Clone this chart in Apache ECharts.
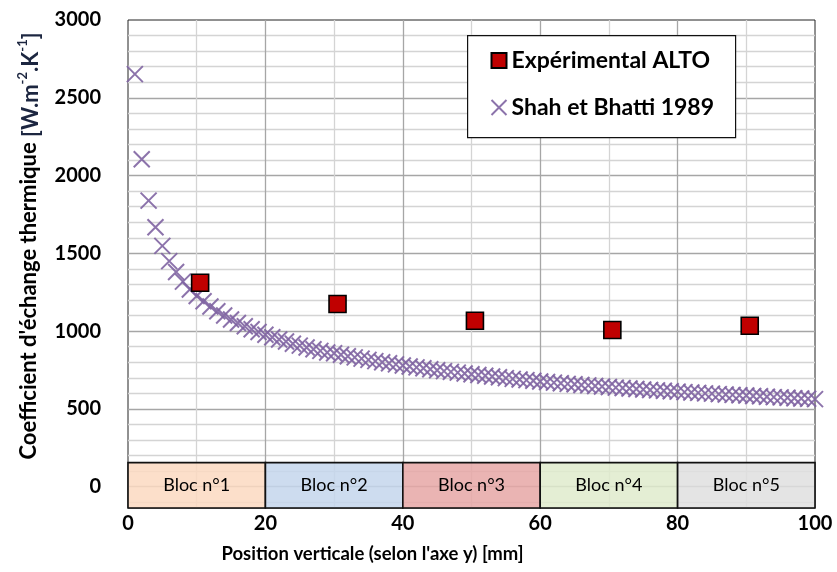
<!DOCTYPE html>
<html>
<head>
<meta charset="utf-8">
<script src="https://cdn.jsdelivr.net/npm/echarts@6/dist/echarts.min.js"></script>
<style>
html,body{margin:0;padding:0;background:#fff;}
#chart{width:837px;height:572px;}
</style>
</head>
<body>
<div id="chart"></div>
<script>
// ---- Data ----
const expX = [10.5, 30.5, 50.5, 70.5, 90.5];
const expY = [1311, 1174, 1067, 1007, 1035];

const shahX = [1,2,3,4,5,6,7,8,9,10,11,12,13,14,15,16,17,18,19,20,
  21,22,23,24,25,26,27,28,29,30,31,32,33,34,35,36,37,38,39,40,
  41,42,43,44,45,46,47,48,49,50,51,52,53,54,55,56,57,58,59,60,
  61,62,63,64,65,66,67,68,69,70,71,72,73,74,75,76,77,78,79,80,
  81,82,83,84,85,86,87,88,89,90,91,92,93,94,95,96,97,98,99,100];
const shahY = [2652,2105,1839,1668,1548,1450,1380,1318,1268,1226,
  1192,1158,1128,1100,1075,1052,1031,1012,994,977,
  961,946,933,919,907,895,884,873,863,858,
  848,839,831,823,815,807,800,793,786,779,
  773,767,761,755,749,743,738,733,728,723,
  718,713,708,703,698,693,689,685,681,676,
  673,669,665,661,658,654,651,647,644,641,
  637,634,631,628,625,622,619,617,614,611,
  608,605,603,600,598,595,593,590,588,586,
  583,581,578,576,574,572,569,567,565,563];

const blockNames = ['Bloc n°1', 'Bloc n°2', 'Bloc n°3', 'Bloc n°4', 'Bloc n°5'];
const blockStart = [0, 20, 40, 60, 80];
const blockEnd = [20, 40, 60, 80, 100];
const blockColors = ['rgba(251,218,193,0.86)', 'rgba(197,214,236,0.86)', 'rgba(230,168,166,0.86)', 'rgba(224,235,205,0.86)', 'rgba(224,224,224,0.86)'];
const blockBottom = -137;
const blockTop = 155;

const yLabels = [0, 500, 1000, 1500, 2000, 2500, 3000];
const hGrid = [-100,0,100,200,300,400,500,600,700,800,900,1000,1100,1200,1300,1400,1500,1600,1700,1800,1900,2000,2100,2200,2300,2400,2500,2600,2700,2800,2900];
const vGrid = [10,20,30,40,50,60,70,80,90];

const FONT = 'Lato, "Open Sans", sans-serif';
const gridLight = '#d4d4d4';
const gridDark = '#a6a6a6';

const gridLines = [];
hGrid.forEach(v => gridLines.push({yAxis: v, lineStyle: {color: (v % 500 === 0) ? gridDark : gridLight, width: 1.3, type: 'solid'}}));
vGrid.forEach(v => gridLines.push({xAxis: v, lineStyle: {color: (v % 20 === 0) ? gridDark : gridLight, width: 1.3, type: 'solid'}}));

const blockAreas = blockNames.map((n, i) => [
  {name: n, xAxis: blockStart[i], yAxis: blockBottom, itemStyle: {color: blockColors[i], borderColor: '#111', borderWidth: 1.6}},
  {xAxis: blockEnd[i], yAxis: blockTop}
]);

const chart = echarts.init(document.getElementById('chart'), null, {renderer: 'canvas'});
chart.setOption({
  animation: false,
  backgroundColor: '#fff',
  textStyle: {fontFamily: FONT},
  grid: {left: 128, right: 22, top: 20, bottom: 64, show: true, borderColor: '#222', borderWidth: 1, backgroundColor: 'transparent', z: 0},
  xAxis: {
    type: 'value', min: 0, max: 100, interval: 20,
    splitLine: {show: false},
    axisTick: {show: false},
    axisLine: {show: false},
    axisLabel: {color: '#000', fontWeight: 'bold', fontSize: 20, fontFamily: FONT, margin: 6},
    name: "Position verticale (selon l'axe y) [mm]",
    nameLocation: 'middle', nameGap: 37,
    nameTextStyle: {color: '#000', fontWeight: 'bold', fontSize: 18.5, fontFamily: FONT, padding: [0, 198, 0, 0]}
  },
  yAxis: {
    type: 'value', min: blockBottom, max: 3000,
    splitLine: {show: false},
    axisTick: {show: false},
    axisLine: {show: false},
    axisLabel: {color: '#000', fontWeight: 'bold', fontSize: 20, fontFamily: FONT, margin: 27, customValues: yLabels,
      formatter: v => String(v)},
    name: "Coefficient d'échange thermique {n|[W.m}{s|-2}{n|.K}{s|-1}{n|]}",
    nameLocation: 'middle', nameGap: 86, nameRotate: 90,
    nameTextStyle: {
      color: '#000', fontWeight: 'bold', fontSize: 22, fontFamily: FONT, padding: [0, 0, 0, 36],
      rich: {
        n: {color: '#1c2640', fontWeight: 'bold', fontSize: 22, fontFamily: FONT, lineHeight: 26, verticalAlign: 'bottom'},
        s: {color: '#1c2640', fontWeight: 'bold', fontSize: 13, fontFamily: FONT, lineHeight: 26, verticalAlign: 'top'}
      }
    }
  },
  legend: {
    orient: 'vertical', left: 484, top: 44, itemGap: 24, itemWidth: 15, itemHeight: 15, z: 11,
    textStyle: {color: '#000', fontWeight: 'bold', fontSize: 23, fontFamily: FONT},
    data: ['Expérimental ALTO', 'Shah et Bhatti 1989']
  },
  graphic: [{
    type: 'rect', left: 467, top: 35, z: 10,
    shape: {width: 268, height: 102},
    style: {fill: '#fff', stroke: '#111', lineWidth: 1.2}
  }],
  series: [
    {
      name: 'grid', type: 'line', data: [], z: 1, silent: true,
      markLine: {z: 1, silent: true, symbol: ['none', 'none'], label: {show: false}, data: gridLines, animation: false}
    },
    {
      name: 'blocks', type: 'line', data: [], z: 2, silent: true,
      markArea: {z: 3, silent: true, data: blockAreas,
        label: {show: true, position: 'inside', color: '#000', fontSize: 18, fontFamily: FONT}}
    },
    {
      name: 'Shah et Bhatti 1989', type: 'scatter', z: 4,
      symbol: 'path://M0,0L10,10M10,0L0,10', symbolSize: 16,
      itemStyle: {color: 'none', borderColor: '#8064A2', borderWidth: 2, opacity: 0.9},
      data: shahX.map((x, i) => [x, shahY[i]])
    },
    {
      name: 'Expérimental ALTO', type: 'scatter', z: 5,
      symbol: 'rect', symbolSize: 17,
      itemStyle: {color: '#C00000', borderColor: '#000', borderWidth: 1.6, opacity: 1},
      emphasis: {disabled: true},
      data: expX.map((x, i) => [x, expY[i]])
    }
  ]
});
</script>
</body>
</html>
